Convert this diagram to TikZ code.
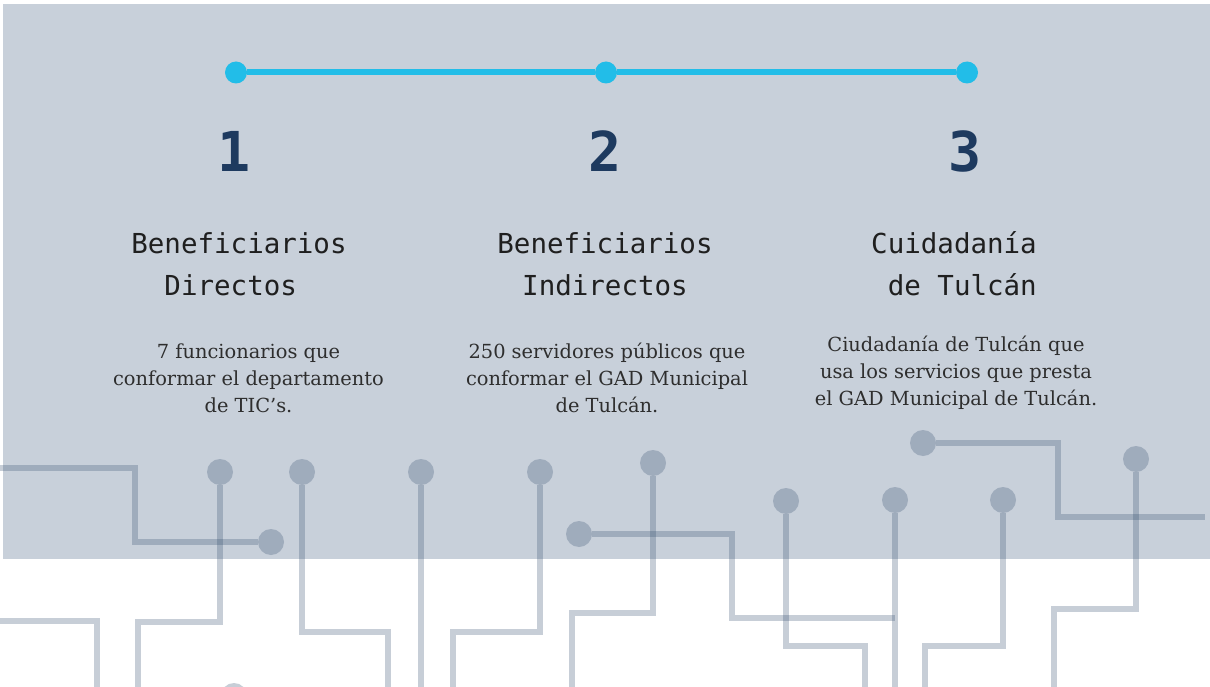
\documentclass[tikz,border=0pt]{standalone}
\usepackage{fontspec}
\setmainfont{DejaVu Serif}
\setmonofont{DejaVu Sans Mono}
\definecolor{panel}{HTML}{C8D0DA}
\definecolor{trace}{HTML}{334C6D}
\definecolor{timeline}{HTML}{22BDE8}
\definecolor{navy}{HTML}{1E3A5F}

\begin{document}
\begin{tikzpicture}[x=1pt, y=-1pt,
    tdot/.style={circle, fill=timeline, inner sep=0pt, minimum size=22pt},
    cdot/.style={circle, fill=trace, fill opacity=0.27, inner sep=0pt, minimum size=26pt},
    wire/.style={draw=trace, draw opacity=0.27, line width=6pt},
    num/.style={font=\ttfamily\bfseries\fontsize{55}{60}\selectfont, text=navy, anchor=base, inner sep=0pt},
    heading/.style={font=\ttfamily\fontsize{27.5}{42}\selectfont, text=black!88, align=center, anchor=base, inner sep=0pt},
    desc/.style={font=\fontsize{19.4}{27}\selectfont, text=black!82, align=center, anchor=base, inner sep=0pt}]
        \useasboundingbox (0,0) rectangle (1210,687);
        \clip (0,0) rectangle (1210,687);

        % Background
        \fill[white] (0,0) rectangle (1210,687);
        \fill[panel] (3,4) rectangle (1210,559);

        % Timeline
        \node[tdot] (t1) at (236,72.5) {};
        \node[tdot] (t2) at (606,72.5) {};
        \node[tdot] (t3) at (967,72.5) {};
        \draw[timeline, line width=6pt] (t1) -- (t2) -- (t3);

        % Numbers
        \node[num] (n1) at (234,172) {1};
        \node[num] (n2) at (605,172) {2};
        \node[num] (n3) at (965,172) {3};

        % Headings (base = last line)
        \node[heading] (h1) at (239,295) {Beneficiarios\\Directos\phantom{s}};
        \node[heading] (h2) at (605,295) {Beneficiarios\\Indirectos};
        \node[heading] (h3) at (954,295) {Cuidadanía\\\phantom{x}de Tulcán};

        % Descriptions
        \node[desc] (d1) at (248.5,412) {7 funcionarios que\\conformar el departamento\\de TIC’s.};
        \node[desc] (d2) at (607,412) {250 servidores públicos que\\conformar el GAD Municipal\\de Tulcán.};
        \node[desc] (d3) at (956,405) {Ciudadanía de Tulcán que\\usa los servicios que presta\\el GAD Municipal de Tulcán.};

        % Circuit dots
        \node[cdot] (ca) at (271,542) {};
        \node[cdot] (cb) at (220,472) {};
        \node[cdot] (cc) at (302,472) {};
        \node[cdot] (cd) at (421,472) {};
        \node[cdot] (ce) at (234,696) {};
        \node[cdot] (cf) at (540,472) {};
        \node[cdot] (cg) at (579,534) {};
        \node[cdot] (ch) at (653,463) {};
        \node[cdot] (ci) at (786,501) {};
        \node[cdot] (cj) at (895,500) {};
        \node[cdot] (ck) at (1003,500) {};
        \node[cdot] (cl) at (923,443) {};
        \node[cdot] (cm) at (1136,459) {};

        % Circuit traces
        \draw[wire] (-5,468) -| (135,542) -- (ca.west);
        \draw[wire] (-5,621) -| (97,700);
        \draw[wire] (cb.south) |- (138,622) -- (138,700);
        \draw[wire] (cc.south) |- (388,632) -- (388,700);
        \draw[wire] (cd.south) -- (421,700);
        \draw[wire] (cf.south) |- (453,632) -- (453,700);
        \draw[wire] (cg.east) -| (732,618) -- (895,618);
        \draw[wire] (ch.south) |- (572,613) -- (572,700);
        \draw[wire] (ci.south) |- (865,646) -- (865,700);
        \draw[wire] (cj.south) -- (895,700);
        \draw[wire] (ck.south) |- (925,646) -- (925,700);
        \draw[wire] (cl.east) -| (1058,517) -- (1205,517);
        \draw[wire] (cm.south) |- (1054,609) -- (1054,700);

    \end{tikzpicture}
\end{document}
